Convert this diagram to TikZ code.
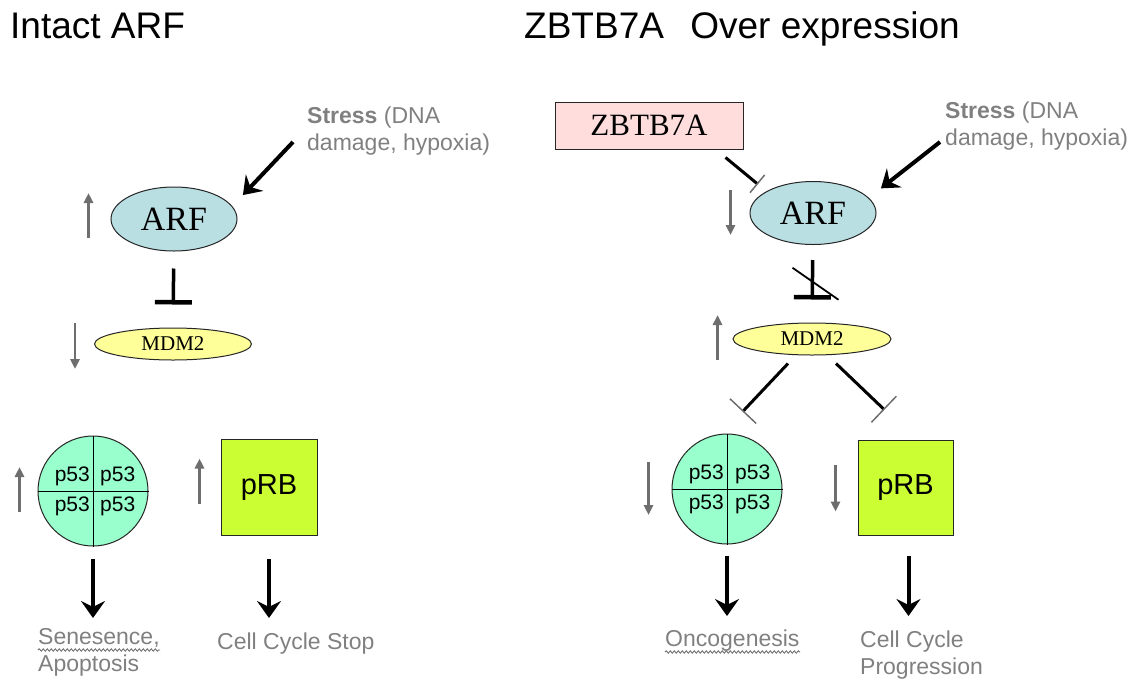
\documentclass[tikz,border=0pt]{standalone}
\usepackage{fontspec}
\setmainfont{Liberation Serif}
\setsansfont{Liberation Sans}
\usepackage{tikz}
\usetikzlibrary{arrows.meta,calc,shapes.geometric,decorations.pathmorphing}
\definecolor{arfblue}{HTML}{B9DFE3}
\definecolor{mdmyellow}{HTML}{FFFF99}
\definecolor{pmint}{HTML}{99FFCC}
\definecolor{prblime}{HTML}{CCFF33}
\definecolor{zbpink}{HTML}{FFDDDD}
\definecolor{txtgray}{HTML}{808080}
\definecolor{arrgray}{HTML}{6E6E6E}
\newcommand{\pxfont}[2]{\fontsize{#1pt}{#2pt}\selectfont}

\begin{document}
\begin{tikzpicture}[x=1pt, y=-1pt, >=Stealth,
  protein/.style={ellipse, draw=black!85, line width=1pt, inner sep=0pt},
  gene/.style={draw=black!85, line width=1pt, inner sep=0pt},
  quad/.style={font=\sffamily\pxfont{21}{21}, inner sep=0pt},
  note/.style={font=\sffamily\pxfont{23}{27}, text=txtgray, inner sep=0pt, align=left},
  level/.style={arrgray, line width=2.5pt, -{Triangle[length=10pt,width=9pt]}},
  hit/.style={line width=4pt, -{Stealth[length=17pt,width=24pt,inset=6pt]}},
  block/.style={line width=3.5pt, -{Bar[width=37pt,line width=4.5pt]}},
  weak/.style={line width=3pt, -{Bar[width=36pt,line width=1.5pt,color=arrgray]}},
  spell/.style={black!60, line width=0.8pt, decorate,
    decoration={snake, amplitude=1.2pt, segment length=4pt}}]
  \useasboundingbox (0,0) rectangle (1140,678);

  % titles
  \node[anchor=base west, inner sep=0pt, font=\sffamily\pxfont{37}{40}] (titleL) at (10,38) {Intact ARF};
  \node[anchor=base west, inner sep=0pt, font=\sffamily\pxfont{37}{40}] (titleR) at (524,38) {ZBTB7A\hspace{16pt} Over expression};

  % left: intact ARF
  \node[note, anchor=north west] (stressL) at (307,107) {\textbf{Stress} (DNA\\damage, hypoxia)};
  \node[protein, fill=arfblue, minimum width=126pt, minimum height=64pt, font=\pxfont{34}{34}] (arfL) at (174,219) {ARF};
  \node[protein, fill=mdmyellow, minimum width=157pt, minimum height=32pt, font=\pxfont{21}{21}] (mdmL) at (173,344) {MDM2};
  \node[circle, draw=black!85, line width=1pt, fill=pmint, minimum size=110pt, inner sep=0pt] (p53L) at (93,491) {};
  \draw[line width=1pt] (p53L.north) -- (p53L.south);
  \draw[line width=1pt] (p53L.west) -- (p53L.east);
  \node[quad, anchor=east] (p53La) at ($(p53L)+(-3,-15)$) {p53};
  \node[quad, anchor=west] (p53Lb) at ($(p53L)+(7,-15)$) {p53};
  \node[quad, anchor=east] (p53Lc) at ($(p53L)+(-3,15)$) {p53};
  \node[quad, anchor=west] (p53Ld) at ($(p53L)+(7,15)$) {p53};
  \node[gene, fill=prblime, minimum size=96pt, font=\sffamily\pxfont{29}{29}] (prbL) at (269,487.5) {pRB};
  \node[note, anchor=north west] (senL) at (38,628) {Senesence,\\Apoptosis};
  \node[note, anchor=north west] (cycL) at (217,633) {Cell Cycle Stop};

  \draw[hit] ([shift={(-14,35)}]stressL.north west) -- ([shift={(24,-1)}]arfL.north east);
  \draw[block, shorten <=17pt, shorten >=23pt] (arfL) -- (mdmL);
  \draw[hit, shorten <=12pt, shorten >=10pt] (p53L.south) -- (p53L.south |- senL.north);
  \draw[hit, shorten <=23pt, shorten >=15pt] (prbL.south) -- (prbL.south |- cycL.north);
  \draw[spell] ([shift={(0,22)}]senL.north west) -- ++(122,0);

  \draw[level] ([shift={(-22,19)}]arfL.west) -- ++(0,-45);
  \draw[level] ([shift={(-19,-21)}]mdmL.west) -- ++(0,46);
  \draw[level] ([shift={(-18,21)}]p53L.west) -- ++(0,-45);
  \draw[level] ([shift={(-21,16)}]prbL.west) -- ++(0,-45);

  % right: ZBTB7A over expression
  \node[gene, fill=zbpink, minimum width=188pt, minimum height=47pt, font=\pxfont{31}{31}] (zbtb) at (649,125.5) {ZBTB7A};
  \node[note, anchor=north west] (stressR) at (945,102) {\textbf{Stress} (DNA\\damage, hypoxia)};
  \node[protein, fill=arfblue, minimum width=126pt, minimum height=63pt, font=\pxfont{34}{34}] (arfR) at (813,213) {ARF};
  \node[protein, fill=mdmyellow, minimum width=158pt, minimum height=32pt, font=\pxfont{21}{21}] (mdmR) at (812,339) {MDM2};
  \node[circle, draw=black!85, line width=1pt, fill=pmint, minimum size=110pt, inner sep=0pt] (p53R) at (727,489) {};
  \draw[line width=1pt] (p53R.north) -- (p53R.south);
  \draw[line width=1pt] (p53R.west) -- (p53R.east);
  \node[quad, anchor=east] (p53Ra) at ($(p53R)+(-3,-15)$) {p53};
  \node[quad, anchor=west] (p53Rb) at ($(p53R)+(8,-15)$) {p53};
  \node[quad, anchor=east] (p53Rc) at ($(p53R)+(-3,15)$) {p53};
  \node[quad, anchor=west] (p53Rd) at ($(p53R)+(8,15)$) {p53};
  \node[gene, fill=prblime, minimum size=95pt, font=\sffamily\pxfont{29}{29}] (prbR) at (905.5,487.5) {pRB};
  \node[note, anchor=north west] (oncR) at (665,630) {Oncogenesis};
  \node[note, anchor=north west] (cycR) at (860,631) {Cell Cycle\\Progression};

  \draw[hit] ([shift={(-5,40)}]stressR.north west) -- ([shift={(23,-2)}]arfR.north east);
  \draw[line width=3pt, -{Bar[width=23pt,line width=1.5pt,color=arrgray]}, shorten >=11pt]
    ([shift={(-18,8)}]zbtb.south east) -- (arfR.155);
  \draw[block, shorten <=15pt, shorten >=23pt] (arfR) -- (mdmR);
  \coordinate (cut) at ($(arfR.south)!.5!(mdmR.north)$);
  \draw[line width=1.8pt] ([shift={(-20,-16)}]cut) -- ([shift={(26,16)}]cut);
  \draw[weak, shorten >=30pt] ([shift={(-24,8)}]mdmR.south) -- ([xshift=-5]p53R.north);
  \draw[weak, shorten >=43pt] ([shift={(24,8)}]mdmR.south) -- ([xshift=10]prbR.north);
  \draw[hit, shorten <=11pt, shorten >=14pt] (p53R.south) -- (p53R.south |- oncR.north);
  \draw[hit, shorten <=20pt, shorten >=15pt] ([xshift=3]prbR.south) -- ([xshift=3]prbR.south |- cycR.north);
  \draw[spell] ([shift={(0,22)}]oncR.north west) -- ++(135,0);

  \draw[level] ([shift={(-19,-23)}]arfR.west) -- ++(0,45);
  \draw[level] ([shift={(-15,21)}]mdmR.west) -- ++(0,-45);
  \draw[level] ([shift={(-23,-27)}]p53R.west) -- ++(0,53);
  \draw[level] ([shift={(-22,-23)}]prbR.west) -- ++(0,47);
\end{tikzpicture}
\end{document}
